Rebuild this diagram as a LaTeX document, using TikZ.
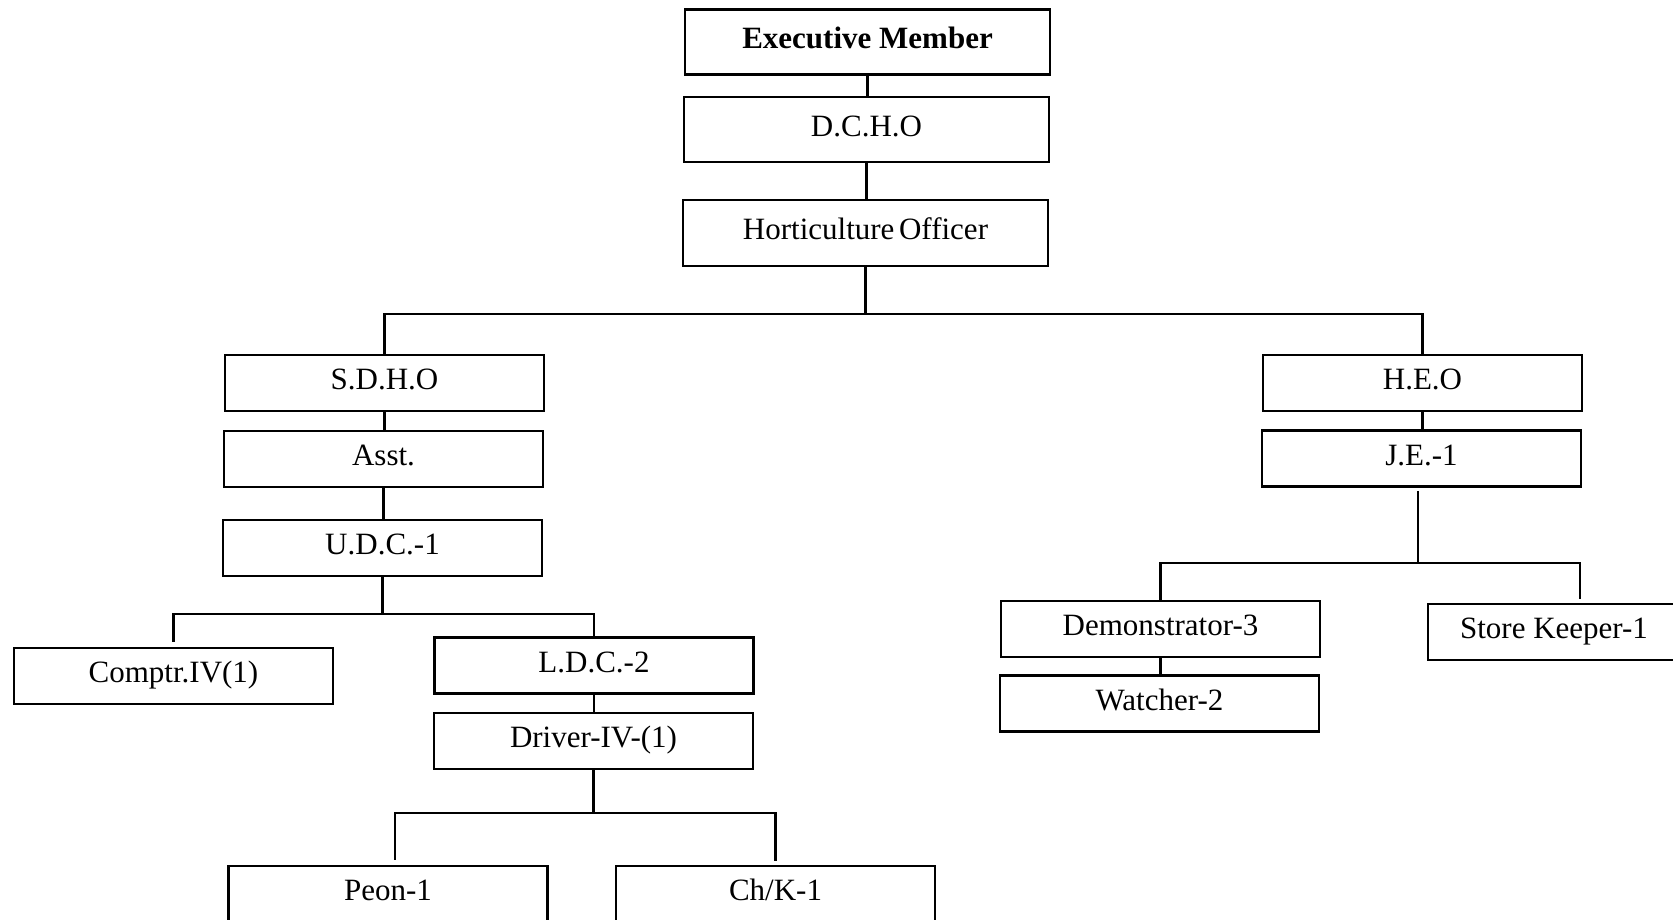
\documentclass[tikz,border=0pt]{standalone}
\usepackage{fontspec}
\setmainfont{Liberation Serif}
\begin{document}
\begin{tikzpicture}[x=1pt,y=-1pt,
  box/.style={draw, line width=2.7pt, minimum width=319pt, minimum height=56pt,
    inner sep=0pt, font=\fontsize{31}{36}\selectfont, text height=16pt, text depth=2.2pt},
  topbox/.style={box, minimum width=365pt, minimum height=65pt},
  link/.style={line width=2.6pt}]
\useasboundingbox (0,0) rectangle (1673,919);
\clip (0,0) rectangle (1673,919);

% top of the chart
\node[topbox, font=\fontsize{31}{36}\selectfont\bfseries] (exec) at (867.5,42) {Executive Member};
\node[topbox] (dcho) at (866.5,129.5) {D.C.H.O};
\node[topbox, minimum height=66pt] (hort) at (865.5,233) {Horticulture\hspace{-0.1em} Officer};

% left branch
\node[box] (sdho) at (384.5,383) {S.D.H.O};
\node[box] (asst) at (383.5,459) {Asst.};
\node[box] (udc) at (382.5,548) {U.D.C.-1};
\node[box] (comptr) at (173.5,676) {Comptr.IV(1)};
\node[box] (ldc) at (594,665.5) {L.D.C.-2};
\node[box] (driver) at (593.5,741) {Driver-IV-(1)};
\node[box] (peon) at (388,894) {Peon-1};
\node[box] (chk) at (775.5,894) {Ch/K-1};

% right branch
\node[box] (heo) at (1422.5,383) {H.E.O};
\node[box] (je) at (1421.5,458.5) {J.E.-1};
\node[box] (demo) at (1160.5,629) {Demonstrator-3};
\node[box] (watch) at (1159.5,703.5) {Watcher-2};
\node[box, minimum width=252pt] (store) at (1554,632) {Store Keeper-1};

% branch points
\coordinate (hb) at (866,314);
\coordinate (ub) at (385,614);
\coordinate (db) at (594,813);
\coordinate (jb) at (1418,563);

% connectors
\draw[link] (exec.south) -- (exec.south |- dcho.north);
\draw[link] (dcho.south) -- (dcho.south |- hort.north);
\draw[link] (hort.south) -- (hort.south |- hb);
\draw[link] (sdho.north) |- (hb) -| (heo.north);

\draw[link] (sdho.south) -- (sdho.south |- asst.north);
\draw[link] (asst.south) -- (asst.south |- udc.north);
\draw[link] (udc.south) -- (udc.south |- ub);
\draw[link] ([yshift=5pt]comptr.north) |- (ub) -| (ldc.north);
\draw[link] (ldc.south) -- (ldc.south |- driver.north);
\draw[link] (driver.south) -- (driver.south |- db);
\draw[link] ([xshift=7pt,yshift=5pt]peon.north) |- (db) -| ([yshift=4pt]chk.north);

\draw[link] (heo.south) -- (heo.south |- je.north);
\draw[link] ([yshift=-3pt]je.south -| jb) -- (jb);
\draw[link] (demo.north) |- (jb) -| ([xshift=26pt,yshift=4pt]store.north);
\draw[link] (demo.south) -- (demo.south |- watch.north);
\end{tikzpicture}
\end{document}
